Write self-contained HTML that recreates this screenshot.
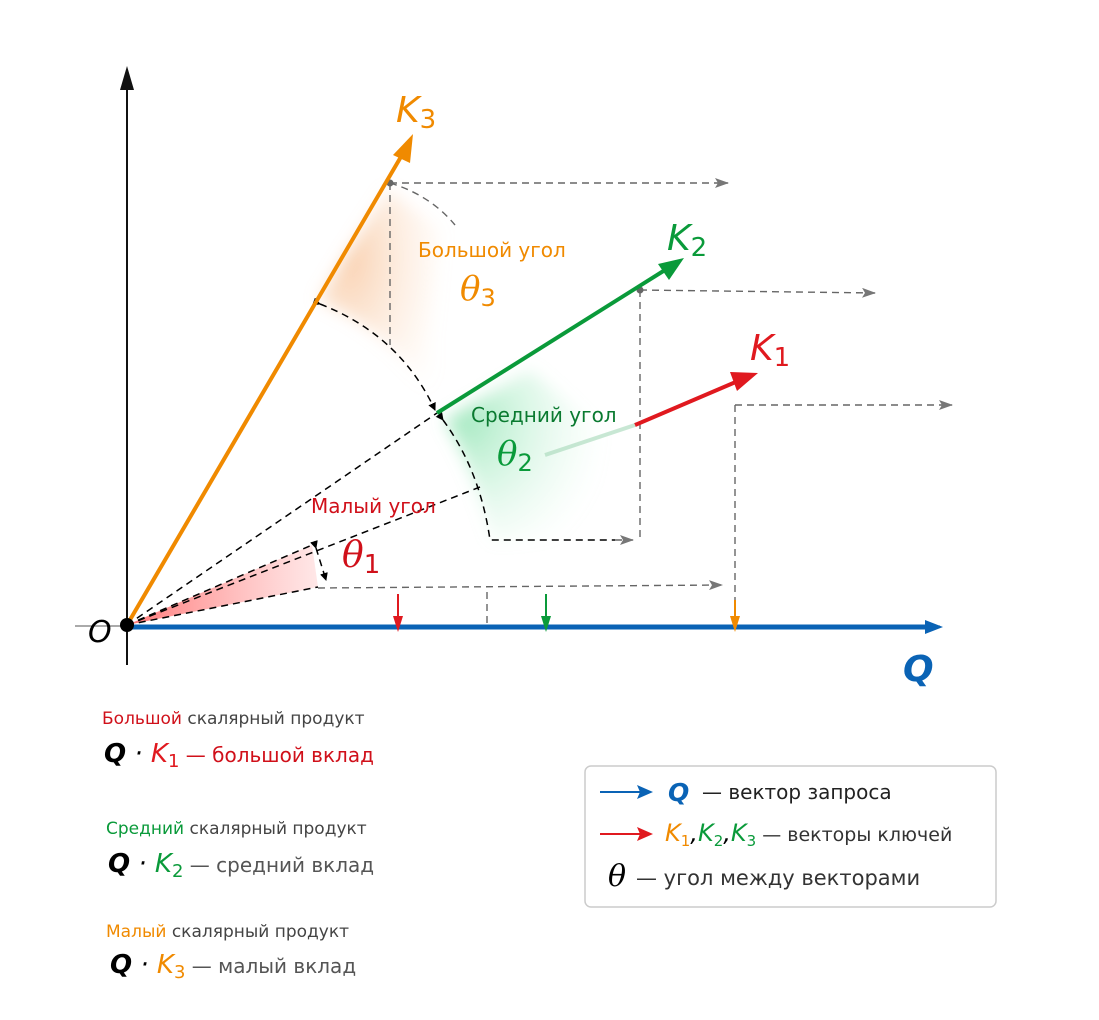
<!DOCTYPE html>
<html><head><meta charset="utf-8"><style>
body{margin:0;background:#fff;width:1099px;height:1020px;overflow:hidden;font-family:"Liberation Sans","DejaVu Sans",sans-serif}
svg{position:absolute;left:0;top:0}
.t{font-family:"DejaVu Sans","Liberation Sans",sans-serif}
</style></head><body>
<svg width="1099" height="1020" viewBox="0 0 1099 1020">
<defs>
<marker id="as" markerWidth="8" markerHeight="8" refX="7" refY="4" orient="auto" markerUnits="userSpaceOnUse"><path d="M0,0 L8,4 L0,8z" fill="#000"/></marker>
<marker id="ag" markerWidth="14" markerHeight="10" refX="13" refY="5" orient="auto" markerUnits="userSpaceOnUse"><path d="M0,0 L14,5 L0,10 L3,5z" fill="#777"/></marker>
<linearGradient id="gr" x1="0" y1="0" x2="1" y2="0"><stop offset="0" stop-color="#f55" stop-opacity=".8"/><stop offset="1" stop-color="#f88" stop-opacity=".2"/></linearGradient>
<radialGradient id="go" cx="0.25" cy="0.3" r="0.9"><stop offset="0" stop-color="#f5b17a" stop-opacity=".6"/><stop offset="1" stop-color="#fde0c8" stop-opacity="0"/></radialGradient>
<radialGradient id="gg" cx="0.15" cy="0.3" r="0.9"><stop offset="0" stop-color="#6fdc9c" stop-opacity=".6"/><stop offset="1" stop-color="#c8f5da" stop-opacity="0"/></radialGradient>
<filter id="bl" x="-20%" y="-20%" width="140%" height="140%"><feGaussianBlur stdDeviation="8"/></filter>
</defs>
<path d="M318,300 L388,190 L440,230 L430,340 L437,410 Q400,335 318,300z" fill="url(#go)" filter="url(#bl)"/>
<path d="M444,420 L530,370 L600,430 L590,535 L492,540 Q475,470 444,420z" fill="url(#gg)" filter="url(#bl)"/>
<path d="M127,625 L312,545 L318,587z" fill="url(#gr)"/>
<line x1="127" y1="665" x2="127" y2="75" stroke="#111" stroke-width="2"/>
<path d="M127,66 L120,90 L134,90z" fill="#111"/>
<line x1="75" y1="626" x2="940" y2="626" stroke="#555" stroke-width="1"/>
<line x1="127" y1="627" x2="930" y2="627" stroke="#0a63b5" stroke-width="5"/>
<path d="M943,627 L925,620 L925,634z" fill="#0a63b5"/>
<g stroke="#000" stroke-width="1.5" stroke-dasharray="7,5" fill="none">
<line x1="127" y1="625" x2="437" y2="413"/>
<line x1="127" y1="625" x2="480" y2="487"/>
<line x1="127" y1="625" x2="312" y2="545"/>
<line x1="127" y1="625" x2="318" y2="587"/>
<path d="M320,304 Q400,335 435,410" marker-start="url(#as)" marker-end="url(#as)"/>
<path d="M443,420 Q480,470 490,540 L615,540" marker-start="url(#as)"/>
<line x1="316" y1="548" x2="326" y2="580" marker-start="url(#as)" marker-end="url(#as)"/>
</g>
<g stroke="#666" stroke-width="1.4" stroke-dasharray="7,5" fill="none">
<line x1="390" y1="183" x2="728" y2="183" marker-end="url(#ag)"/>
<line x1="390" y1="183" x2="390" y2="345"/>
<path d="M390,183 Q430,195 455,225"/>
<line x1="640" y1="290" x2="875" y2="293" marker-end="url(#ag)"/>
<line x1="640" y1="290" x2="640" y2="540"/>
<line x1="615" y1="540" x2="633" y2="540" marker-end="url(#ag)"/>
<line x1="735" y1="405" x2="952" y2="405" marker-end="url(#ag)"/>
<line x1="735" y1="405" x2="735" y2="600"/>
<line x1="318" y1="588" x2="722" y2="585" marker-end="url(#ag)"/>
<line x1="487" y1="592" x2="487" y2="625"/>
</g>
<line x1="545" y1="455" x2="635" y2="425" stroke="#a5d8b8" stroke-width="4" opacity=".6"/>
<circle cx="390" cy="183" r="3.5" fill="#666"/><circle cx="640" cy="290" r="3.5" fill="#666"/>
<line x1="127" y1="625" x2="402" y2="155" stroke="#f08a00" stroke-width="4"/>
<path d="M413,134 L393,155 L410,163z" fill="#f08a00"/>
<line x1="437" y1="413" x2="665" y2="270" stroke="#0a9a3a" stroke-width="4"/>
<path d="M684,258 L658,264 L669,280z" fill="#0a9a3a"/>
<line x1="635" y1="425" x2="738" y2="381" stroke="#e0191f" stroke-width="4"/>
<path d="M758,373 L730,372 L737,391z" fill="#e0191f"/>
<g stroke-width="2">
<line x1="398" y1="594" x2="398" y2="620" stroke="#e0191f"/><path d="M398,632 L393,616 L403,616z" fill="#e0191f"/>
<line x1="546" y1="594" x2="546" y2="620" stroke="#0a9a3a"/><path d="M546,632 L541,616 L551,616z" fill="#0a9a3a"/>
<line x1="735" y1="600" x2="735" y2="620" stroke="#f08a00"/><path d="M735,632 L730,616 L740,616z" fill="#f08a00"/>
</g>
<circle cx="127" cy="625" r="7" fill="#000"/>
<text x="88" y="642" font-family="DejaVu Sans" font-style="italic" font-size="30">O</text>
<text x="903" y="681" font-family="DejaVu Sans" font-style="italic" font-weight="bold" font-size="36" fill="#0a63b5">Q</text>
<text x="396" y="122" class="t" font-style="italic" font-size="36" fill="#f08a00">K<tspan font-size="26" font-style="normal" dy="6">3</tspan></text>
<text x="667" y="250" class="t" font-style="italic" font-size="36" fill="#0a9a3a">K<tspan font-size="26" font-style="normal" dy="6">2</tspan></text>
<text x="750" y="360" class="t" font-style="italic" font-size="36" fill="#e0191f">K<tspan font-size="26" font-style="normal" dy="6">1</tspan></text>
<text x="418" y="257" class="t" font-size="20" fill="#f08a00">Большой угол</text>
<text x="460" y="300" font-family="DejaVu Serif" font-style="italic" font-size="34" fill="#f08a00">θ<tspan font-family="DejaVu Sans" font-style="normal" font-size="24" dy="6">3</tspan></text>
<text x="471" y="422" class="t" font-size="20" fill="#0a7a30">Средний угол</text>
<text x="497" y="465" font-family="DejaVu Serif" font-style="italic" font-size="34" fill="#0a9a3a">θ<tspan font-family="DejaVu Sans" font-style="normal" font-size="24" dy="6">2</tspan></text>
<text x="311" y="513" class="t" font-size="20" fill="#d0101a">Малый угол</text>
<text x="342" y="567" font-family="DejaVu Serif" font-style="italic" font-size="36" fill="#d0101a">θ<tspan font-family="DejaVu Sans" font-style="normal" font-size="26" dy="6">1</tspan></text>
<text x="102" y="724" class="t" font-size="17" fill="#444"><tspan fill="#d0101a">Большой</tspan> скалярный продукт</text>
<text x="104" y="762" class="t" font-size="26" font-style="italic"><tspan font-weight="bold">Q</tspan> · <tspan fill="#e0191f">K</tspan><tspan fill="#e0191f" font-style="normal" font-size="18" dy="5">1</tspan><tspan dy="-5" font-style="normal" font-size="20" fill="#d0101a"> — большой вклад</tspan></text>
<text x="106" y="834" class="t" font-size="17" fill="#444"><tspan fill="#0a9a3a">Средний</tspan> скалярный продукт</text>
<text x="108" y="872" class="t" font-size="26" font-style="italic"><tspan font-weight="bold">Q</tspan> · <tspan fill="#0a9a3a">K</tspan><tspan fill="#0a9a3a" font-style="normal" font-size="18" dy="5">2</tspan><tspan dy="-5" font-style="normal" font-size="20" fill="#555"> — средний вклад</tspan></text>
<text x="106" y="937" class="t" font-size="17" fill="#444"><tspan fill="#f08a00">Малый</tspan>  скалярный продукт</text>
<text x="110" y="973" class="t" font-size="26" font-style="italic"><tspan font-weight="bold">Q</tspan> · <tspan fill="#f08a00">K</tspan><tspan fill="#f08a00" font-style="normal" font-size="18" dy="5">3</tspan><tspan dy="-5" font-style="normal" font-size="20" fill="#555"> — малый вклад</tspan></text>
<rect x="585" y="766" width="411" height="141" rx="6" fill="#fff" stroke="#ccc" stroke-width="1.5"/>
<line x1="600" y1="792" x2="645" y2="792" stroke="#0a63b5" stroke-width="2"/><path d="M653,792 L637,785 L640,792 L637,799z" fill="#0a63b5"/>
<text x="668" y="801" class="t" font-size="25" font-style="italic" font-weight="bold" fill="#0a63b5">Q</text>
<text x="702" y="799" class="t" font-size="20" fill="#222">— вектор запроса</text>
<line x1="600" y1="834" x2="645" y2="834" stroke="#e0191f" stroke-width="2"/><path d="M653,834 L637,827 L640,834 L637,841z" fill="#e0191f"/>
<text x="665" y="841" class="t" font-size="24" font-style="italic"><tspan fill="#f08a00">K</tspan><tspan fill="#f08a00" font-style="normal" font-size="15" dy="5">1</tspan><tspan dy="-5">,</tspan><tspan fill="#0a9a3a">K</tspan><tspan fill="#0a9a3a" font-style="normal" font-size="15" dy="5">2</tspan><tspan dy="-5">,</tspan><tspan fill="#0a9a3a">K</tspan><tspan fill="#0a9a3a" font-style="normal" font-size="15" dy="5">3</tspan><tspan dy="-5" font-style="normal" font-size="19" fill="#333"> — векторы ключей</tspan></text>
<text x="608" y="886" font-family="DejaVu Serif" font-style="italic" font-size="30">θ</text>
<text x="636" y="885" class="t" font-size="21" fill="#333">— угол между векторами</text>
</svg>
</body></html>
